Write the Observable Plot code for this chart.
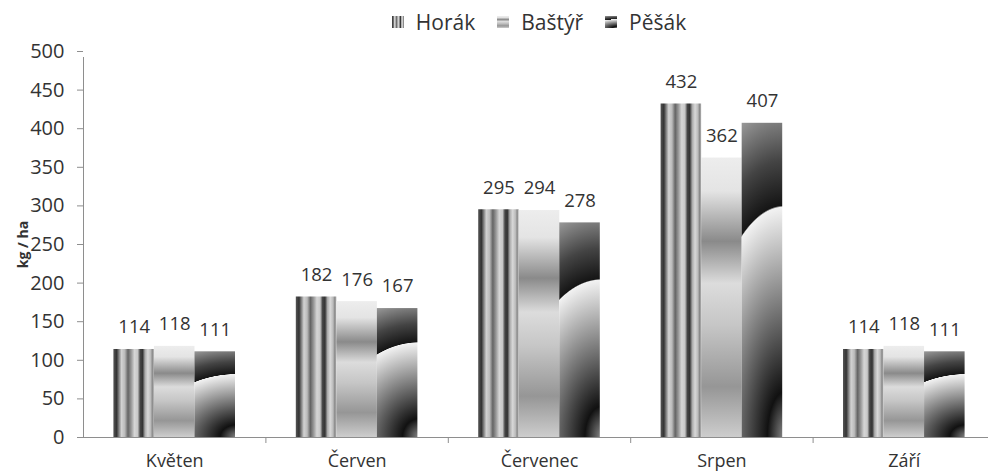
<!DOCTYPE html>
<html>
<head>
<meta charset="utf-8">
<script src="https://cdn.jsdelivr.net/npm/d3@7"></script>
<script src="https://cdn.jsdelivr.net/npm/@observablehq/plot@0.6"></script>
<style>
  html, body { margin: 0; padding: 0; background: #fff; overflow: hidden; }
  body { width: 988px; height: 475px; font-family: "Open Sans", sans-serif; color: #333; position: relative; }
  #legend { position: absolute; left: 83px; top: 0; height: 43px; width: 912px; display: flex; justify-content: center; align-items: center; font-size: 21px; color: #333; }
  #legend .item { display: flex; align-items: center; margin: 0 11px; }
  #legend svg { margin-right: 12px; }
</style>
</head>
<body>
<svg width="0" height="0" style="position:absolute">
  <defs>
    <linearGradient id="gHorak" x1="0" y1="0" x2="1" y2="0">
      <stop offset="0" stop-color="#555"/>
      <stop offset="0.08" stop-color="#333"/>
      <stop offset="0.13" stop-color="#777"/>
      <stop offset="0.2" stop-color="#d2d2d2"/>
      <stop offset="0.28" stop-color="#bbb"/>
      <stop offset="0.36" stop-color="#646464"/>
      <stop offset="0.44" stop-color="#999"/>
      <stop offset="0.52" stop-color="#d6d6d6"/>
      <stop offset="0.6" stop-color="#c8c8c8"/>
      <stop offset="0.66" stop-color="#454545"/>
      <stop offset="0.72" stop-color="#333"/>
      <stop offset="0.78" stop-color="#aaa"/>
      <stop offset="0.85" stop-color="#d8d8d8"/>
      <stop offset="0.92" stop-color="#bbb"/>
      <stop offset="0.96" stop-color="#8a8a8a"/>
      <stop offset="1" stop-color="#b0b0b0"/>
    </linearGradient>
    <linearGradient id="gBastyr" x1="0" y1="0" x2="0" y2="1">
      <stop offset="0" stop-color="#ededed"/>
      <stop offset="0.12" stop-color="#e4e4e4"/>
      <stop offset="0.3" stop-color="#8a8a8a"/>
      <stop offset="0.45" stop-color="#dcdcdc"/>
      <stop offset="0.6" stop-color="#c6c6c6"/>
      <stop offset="0.82" stop-color="#969696"/>
      <stop offset="1" stop-color="#cdcdcd"/>
    </linearGradient>
    <radialGradient id="gPesak" cx="0" cy="0" fx="0" fy="0" r="1"
        gradientTransform="translate(1.05 1) scale(3.2 1.1)">
      <stop offset="0" stop-color="#8a8a8a"/>
      <stop offset="0.13" stop-color="#111"/>
      <stop offset="0.665" stop-color="#f2f2f2"/>
      <stop offset="0.67" stop-color="#151515"/>
      <stop offset="0.8" stop-color="#444"/>
      <stop offset="1" stop-color="#aaa"/>
    </radialGradient>
  </defs>
</svg>
<div id="chart"></div>
<div id="legend"></div>
<script>
const months = ["Květen", "Červen", "Červenec", "Srpen", "Září"];
const series = ["Horák", "Baštýř", "Pěšák"];
const horak  = [114, 182, 295, 432, 114];
const bastyr = [118, 176, 294, 362, 118];
const pesak  = [111, 167, 278, 407, 111];
const yTicks = [0, 50, 100, 150, 200, 250, 300, 350, 400, 450, 500];
const fills = ["url(#gHorak)", "url(#gBastyr)", "url(#gPesak)"];

const values = [horak, bastyr, pesak];
// month i occupies [i, i+1]; the three bars fill the middle two thirds
const data = months.flatMap((m, i) => series.map((s, j) => ({
  month: m, series: s, value: values[j][i],
  x1: i + 1 / 6 + j * 2 / 9,
  x2: i + 1 / 6 + (j + 1) * 2 / 9
})));
const centers = months.map((m, i) => i + 0.5);
const bounds = months.map((m, i) => i + 1);

// legend
const legend = d3.select("#legend");
series.forEach((s, j) => {
  const it = legend.append("div").attr("class", "item");
  it.append("svg").attr("width", 12).attr("height", 12)
    .append("rect").attr("width", 12).attr("height", 12).attr("fill", fills[j]);
  it.append("span").text(s);
});

const chart = Plot.plot({
  width: 988,
  height: 475,
  marginLeft: 83,
  marginRight: -7,
  marginTop: 51,
  marginBottom: 38,
  style: { fontFamily: "Open Sans", color: "#333", background: "white" },
  x: { type: "linear", domain: [0, months.length] },
  y: { domain: [0, 500] },
  color: { domain: series, range: fills },
  marks: [
    Plot.rectY(data, { x1: "x1", x2: "x2", y1: 0, y2: "value", fill: "series" }),
    Plot.text(data, { x: d => (d.x1 + d.x2) / 2, y: "value", text: d => String(d.value), dy: -22, fontSize: 18.5, fill: "#333" }),
    Plot.ruleY([0], { stroke: "#8e8e8e" }),
    Plot.ruleX([0], { y1: 0, y2: 500, insetBottom: -6, stroke: "#8e8e8e" }),
    Plot.axisY({ ticks: yTicks, tickSize: 6, tickPadding: 13, fontSize: 20, stroke: "#8e8e8e", fill: "#333",
      label: "kg / ha", labelAnchor: "center", labelArrow: "none", labelOffset: 65 }),
    Plot.axisX({ ticks: bounds, tickSize: 6, tickFormat: () => "", stroke: "#8e8e8e", label: null }),
    Plot.axisX({ ticks: centers, tickSize: 0, tickPadding: 17, fontSize: 18, fill: "#333",
      tickFormat: d => months[Math.floor(d)], label: null })
  ]
});
document.getElementById("chart").append(chart);
// bold axis title
d3.select(chart).selectAll("g[aria-label='y-axis label'] text").attr("font-weight", "bold").attr("font-size", 14);
</script>
</body>
</html>
